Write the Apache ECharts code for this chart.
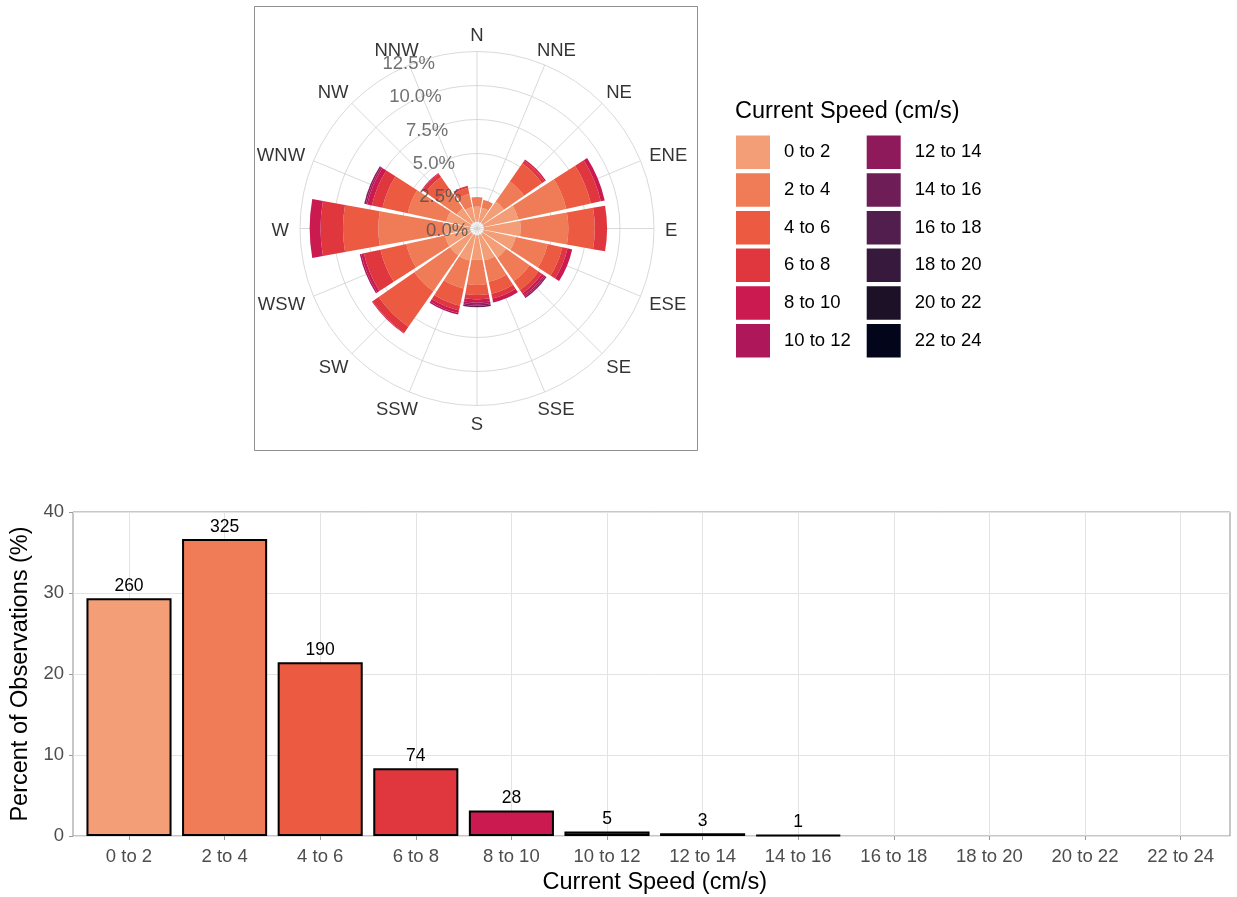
<!DOCTYPE html>
<html><head><meta charset="utf-8">
<script src="https://cdn.jsdelivr.net/npm/echarts@6/dist/echarts.min.js"></script>
<style>html,body{margin:0;padding:0;background:#fff}#c{width:1237px;height:897px}</style>
</head><body><div id="c"></div>
<script>
// ---------------- data ----------------
const directions = ['N','NNE','NE','ENE','E','ESE','SE','SSE','S','SSW','SW','WSW','W','WNW','NW','NNW'];
const speedBins = ['0 to 2','2 to 4','4 to 6','6 to 8','8 to 10','10 to 12','12 to 14','14 to 16','16 to 18','18 to 20','20 to 22','22 to 24'];
const speedColors = ['#F39E76','#EF7B57','#EB5A41','#E0373F','#CB1A4F','#AE1759','#8E1A5B','#6E1D56','#521E4D','#36193C','#1D1128','#03051A'];

// wind-rose: percent of observations per direction (N, NNE, ... NNW) for each speed bin
const rose0to2   = [1.10,1.05,1.90,2.60,2.70,2.40,2.10,1.90,1.80,1.90,1.90,1.90,2.00,1.80,1.30,1.10];
const rose2to4   = [0.70,0.60,1.80,3.60,3.50,2.40,2.10,1.60,1.84,2.10,3.20,2.90,4.74,2.90,1.70,1.00];
const rose4to6   = [0,0,1.60,1.85,1.95,1.10,0.80,0.90,0.73,1.30,3.20,1.95,2.60,1.90,1.10,0.45];
const rose6to8   = [0,0,0.26,0.75,0.90,0.40,0.30,0.35,0.33,0.35,0.55,1.25,1.65,0.80,0.30,0.15];
const rose8to10  = [0,0,0.10,0.30,0,0.35,0.20,0.30,0.24,0.20,0.05,0.20,0.80,0.35,0.05,0];
const rose10to12 = [0,0,0,0,0,0,0.11,0,0.11,0.11,0,0.11,0,0.11,0,0];
const rose12to14 = [0,0,0,0,0,0,0.11,0,0.11,0,0,0,0,0.11,0,0];
const rose14to16 = [0,0,0,0,0,0,0,0,0.11,0,0,0,0,0,0,0];
const rose16to18 = [0,0,0,0,0,0,0,0,0,0,0,0,0,0,0,0];
const rose18to20 = [0,0,0,0,0,0,0,0,0,0,0,0,0,0,0,0];
const rose20to22 = [0,0,0,0,0,0,0,0,0,0,0,0,0,0,0,0];
const rose22to24 = [0,0,0,0,0,0,0,0,0,0,0,0,0,0,0,0];
const roseBins = [rose0to2,rose2to4,rose4to6,rose6to8,rose8to10,rose10to12,rose12to14,rose14to16,rose16to18,rose18to20,rose20to22,rose22to24];

const radialTickValues = [0, 2.5, 5, 7.5, 10, 12.5];
const radialTickLabels = ['0.0%','2.5%','5.0%','7.5%','10.0%','12.5%'];

// histogram
const obsCounts  = [260,325,190,74,28,5,3,1,0,0,0,0];
const obsPercent = [29.35,36.68,21.44,8.35,3.16,0.56,0.34,0.11,0,0,0,0];
const yTicks = {min:0, max:40, interval:10};

// ---------------- layout / style ----------------
const FONT = 'Liberation Sans, Arial, Helvetica, sans-serif';
const FS = 18.5;
const CX = 477, CY = 228.5, R0 = 7, R1 = 177, RLAB = 230;
const RMAX = 12.5;
const pxPerUnit = (R1 - R0) / RMAX;
const labelR = (188 - R0) / pxPerUnit;   // radius (data units) for direction labels

const ctx = document.createElement('canvas').getContext('2d');
ctx.font = FS + 'px "Liberation Sans"';
const textW = t => ctx.measureText(t).width;

const series = [];
roseBins.forEach((arr, j) => {
  series.push({
    type:'bar', name: speedBins[j], coordinateSystem:'polar', polarIndex:0,
    stack:'rose', data: arr, barCategoryGap:'10%', z:3,
    itemStyle:{color: speedColors[j]}
  });
});
// direction labels
series.push({
  type:'scatter', coordinateSystem:'polar', polarIndex:2, symbolSize:1, silent:true, z:10,
  itemStyle:{color:'rgba(0,0,0,0)'},
  data: directions.map((d, i) => {
    const th = i * 22.5 * Math.PI / 180;
    return {value:[labelR, i * 22.5], label:{show:true, position:'inside', formatter:d,
      offset:[Math.sin(th) * textW(d) / 2, -Math.cos(th) * FS * 0.35 + 2],
      fontSize:FS, color:'#000', fontFamily:FONT}};
  })
});
// radial tick labels
series.push({
  type:'scatter', coordinateSystem:'polar', polarIndex:2, symbolSize:1, silent:true, z:10,
  itemStyle:{color:'rgba(0,0,0,0)'},
  label:{show:true, position:'left', distance:7, offset:[0,9], fontSize:FS, color:'#4d4d4d', fontFamily:FONT},
  data: radialTickValues.map((v, i) => ({value:[v, 348.75], label:{formatter: radialTickLabels[i]}}))
});
// histogram bars
series.push({
  type:'bar', name:'Observations', xAxisIndex:1, yAxisIndex:1, barWidth:'89%', z:3,
  data: obsPercent.map((v, i) => ({value: v > 0 ? v : null, itemStyle:{color: speedColors[i]}})),
  itemStyle:{borderColor:'#000', borderWidth:2},
  label:{show:true, position:'top', distance:3, fontSize:17.5, color:'#000', fontFamily:FONT,
    formatter: p => String(obsCounts[p.dataIndex])}
});

const gridLine = {color:'#CFCFCF', width:0.8};
const hiddenAxis = {axisLine:{show:false}, axisTick:{show:false}, axisLabel:{show:false}, splitLine:{show:false}};
const option = {
  animation:false,
  backgroundColor:'#fff',
  textStyle:{fontFamily:FONT},
  title:{text:'Current Speed (cm/s)', left:735, top:100, padding:0,
    textStyle:{fontSize:23.5, fontWeight:'normal', color:'#000', fontFamily:FONT}},
  legend:[
    {data: speedBins.slice(0,6), orient:'vertical', left:736, top:135.5, padding:0,
     itemWidth:34, itemHeight:33.5, itemGap:4.2, icon:'rect', selectedMode:false,
     textStyle:{fontSize:FS, color:'#000', padding:[0,0,0,9], fontFamily:FONT}},
    {data: speedBins.slice(6), orient:'vertical', left:866.7, top:135.5, padding:0,
     itemWidth:34, itemHeight:33.5, itemGap:4.2, icon:'rect', selectedMode:false,
     textStyle:{fontSize:FS, color:'#000', padding:[0,0,0,9], fontFamily:FONT}}
  ],
  polar:[
    {center:[CX, CY], radius:[R0, R1]},
    {center:[CX, CY], radius:[0, R1]},
    {center:[CX, CY], radius:[0, RLAB]}
  ],
  angleAxis:[
    Object.assign({polarIndex:0, type:'category', data:directions, boundaryGap:true, startAngle:101.25, clockwise:true}, hiddenAxis),
    {polarIndex:1, type:'value', min:0, max:360, interval:22.5, startAngle:90, clockwise:true,
     axisLine:{show:false}, axisTick:{show:false}, axisLabel:{show:false},
     splitLine:{show:true, lineStyle:gridLine}},
    Object.assign({polarIndex:2, type:'value', min:0, max:360, startAngle:90, clockwise:true}, hiddenAxis)
  ],
  radiusAxis:[
    {polarIndex:0, type:'value', min:0, max:RMAX, interval:2.5,
     axisLine:{show:false}, axisTick:{show:false}, axisLabel:{show:false},
     splitLine:{show:true, lineStyle:gridLine}},
    Object.assign({polarIndex:1, type:'value', min:-R0 / pxPerUnit, max:RMAX}, hiddenAxis),
    Object.assign({polarIndex:2, type:'value', min:-R0 / pxPerUnit, max:(RLAB - R0) / pxPerUnit}, hiddenAxis)
  ],
  grid:[
    {left:73, right:7, top:512, bottom:61, show:true, borderColor:'#8f8f8f', borderWidth:1, backgroundColor:'rgba(0,0,0,0)'},
    {left:81.2, right:8.6, top:512, bottom:61}
  ],
  xAxis:[
    {gridIndex:0, type:'category', data:speedBins, show:false},
    {gridIndex:1, type:'category', data:speedBins,
     axisLine:{show:false},
     axisTick:{show:true, alignWithLabel:true, length:4, lineStyle:{color:'#999'}},
     axisLabel:{fontSize:FS, color:'#4d4d4d', margin:11, fontFamily:FONT, interval:0},
     splitLine:{show:true, alignWithLabel:true, lineStyle:{color:'#E3E3E3', width:1}},
     name:'Current Speed (cm/s)', nameLocation:'middle', nameGap:35,
     nameTextStyle:{fontSize:23.5, color:'#000', fontFamily:FONT}}
  ],
  yAxis:[
    {gridIndex:0, type:'value', min:yTicks.min, max:yTicks.max, interval:yTicks.interval,
     axisLine:{show:false},
     axisTick:{show:true, length:4, lineStyle:{color:'#999'}},
     axisLabel:{fontSize:FS, color:'#4d4d4d', margin:9, fontFamily:FONT},
     splitLine:{show:true, lineStyle:{color:'#E3E3E3', width:1}},
     name:'Percent of Observations (%)', nameLocation:'middle', nameGap:36,
     nameTextStyle:{fontSize:23.5, color:'#000', fontFamily:FONT}},
    {gridIndex:1, type:'value', min:yTicks.min, max:yTicks.max, show:false}
  ],
  graphic:[
    {type:'rect', silent:true, z:-1, shape:{x:254.5, y:6.5, width:443, height:444},
     style:{fill:'none', stroke:'#8f8f8f', lineWidth:1}}
  ],
  series: series
};
const chart = echarts.init(document.getElementById('c'), null, {renderer:'canvas'});
chart.setOption(option);
</script>
</body></html>
